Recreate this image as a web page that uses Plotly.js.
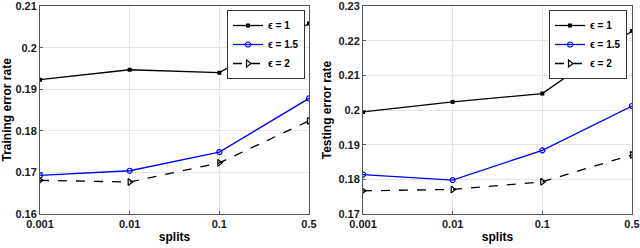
<!DOCTYPE html>
<html>
<head>
<meta charset="utf-8">
<script src="https://cdn.plot.ly/plotly-3.0.1.min.js"></script>
<style>html,body{margin:0;padding:0;background:#fff;}#chart{width:640px;height:248px;}</style>
</head>
<body>
<div id="chart"></div>
<script>
const splits = ["0.001", "0.01", "0.1", "0.5"];
const trainEps1 = [0.1923, 0.1947, 0.1940, 0.2058];
const trainEps15 = [0.1693, 0.1704, 0.1749, 0.1878];
const trainEps2 = [0.1681, 0.1677, 0.1723, 0.1824];
const testEps1 = [0.1995, 0.2024, 0.2048, 0.2229];
const testEps15 = [0.1814, 0.1798, 0.1884, 0.2012];
const testEps2 = [0.1767, 0.1771, 0.1793, 0.1871];
const names = ["ϵ = 1", "ϵ = 1.5", "ϵ = 2"];
const trainTicks = [0.16, 0.17, 0.18, 0.19, 0.2, 0.21];
const trainTickText = ["0.16", "0.17", "0.18", "0.19", "0.2", "0.21"];
const testTicks = [0.17, 0.18, 0.19, 0.2, 0.21, 0.22, 0.23];
const testTickText = ["0.17", "0.18", "0.19", "0.2", "0.21", "0.22", "0.23"];

const styles = [
  {line: {color: "#000", width: 1.3}, marker: {symbol: "square", size: 4, color: "#000"}},
  {line: {color: "#0000ff", width: 1.3}, marker: {symbol: "circle-open", size: 5, color: "#0000ff", line: {width: 1.2}}},
  {line: {color: "#000", width: 1.3, dash: "dash"}, marker: {symbol: "triangle-right-open", size: 6, color: "#000", line: {width: 1.2}}}
];

function mk(y, i, xa, ya, leg) {
  return Object.assign({x: splits, y: y, name: names[i], type: "scatter", mode: "lines+markers",
    xaxis: xa, yaxis: ya, legend: leg}, JSON.parse(JSON.stringify(styles[i])));
}

const data = [
  mk(trainEps1, 0, "x", "y", "legend"),
  mk(trainEps15, 1, "x", "y", "legend"),
  mk(trainEps2, 2, "x", "y", "legend"),
  mk(testEps1, 0, "x2", "y2", "legend2"),
  mk(testEps15, 1, "x2", "y2", "legend2"),
  mk(testEps2, 2, "x2", "y2", "legend2")
];

const fam = "Liberation Sans, Arial, sans-serif";
const titleFont = {family: fam, size: 12, color: "#000"};
const tickFont = {family: fam, size: 11, color: "#1a1a1a", weight: "bold"};
function xax(dom, anchor) {
  return {domain: dom, anchor: anchor, type: "category", range: [0, 3], showgrid: true, gridcolor: "#e6e6e6",
    showline: true, linecolor: "#555", linewidth: 1, mirror: true, ticks: "inside", ticklen: 3, tickcolor: "#555",
    tickfont: tickFont, title: {text: "<b>splits</b>", font: titleFont, standoff: 3}, zeroline: false, fixedrange: true};
}
function yax(dom, anchor, r, tv, tt, t) {
  return {domain: dom, anchor: anchor, range: r, tickmode: "array", tickvals: tv, ticktext: tt, showgrid: true, gridcolor: "#e6e6e6",
    showline: true, linecolor: "#555", linewidth: 1, mirror: true, ticks: "inside", ticklen: 3, tickcolor: "#555",
    tickfont: tickFont, title: {text: "<b>" + t + "</b>", font: titleFont, standoff: 4}, zeroline: false, fixedrange: true,
    ticklabeloverflow: "allow"};
}
const legFont = {family: fam, size: 10, color: "#000", weight: "bold"};
const layout = {
  width: 640, height: 248, margin: {l: 0, r: 0, t: 0, b: 0},
  paper_bgcolor: "#fff", plot_bgcolor: "#fff", font: titleFont,
  xaxis: xax([40/640, 309/640], "y"),
  yaxis: yax([34/248, 242.3/248], "x", [0.16, 0.2101], trainTicks, trainTickText, "Training error rate"),
  xaxis2: xax([363/640, 632/640], "y2"),
  yaxis2: yax([34/248, 242/248], "x2", [0.17, 0.2301], testTicks, testTickText, "Testing error rate"),
  legend: {x: 305/640, xanchor: "right", y: 238/248, yanchor: "top", xref: "paper", yref: "paper",
    bgcolor: "#fff", bordercolor: "#333", borderwidth: 1, font: legFont, itemwidth: 30, tracegroupgap: 0},
  legend2: {x: 627/640, xanchor: "right", y: 238/248, yanchor: "top", xref: "paper", yref: "paper",
    bgcolor: "#fff", bordercolor: "#333", borderwidth: 1, font: legFont, itemwidth: 30, tracegroupgap: 0},
  showlegend: true
};
Plotly.newPlot("chart", data, layout, {staticPlot: true, displayModeBar: false});
</script>
</body>
</html>
